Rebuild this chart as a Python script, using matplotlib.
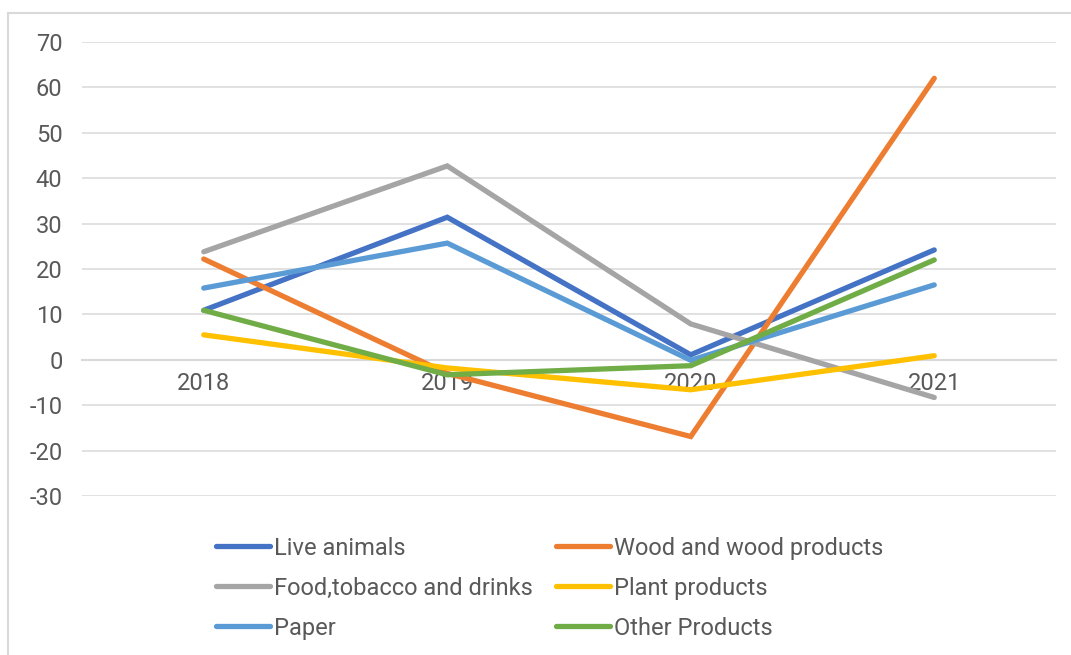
import matplotlib
matplotlib.use("Agg")
import matplotlib.pyplot as plt
from matplotlib.lines import Line2D

plt.rcParams['font.family'] = ['Roboto', 'DejaVu Sans']
plt.rcParams['axes.unicode_minus'] = False

years = ["2018", "2019", "2020", "2021"]

live_animals = [10.9, 31.4, 1.1, 24.2]
wood_products = [22.2, -3.0, -16.9, 62.0]
food_tobacco = [23.8, 42.7, 7.9, -8.3]
plant_products = [5.5, -1.8, -6.6, 0.9]
paper = [15.8, 25.7, -0.1, 16.5]
other_products = [10.9, -3.3, -1.3, 22.0]

series = [
    ("Live animals", live_animals, "#4472C4"),
    ("Wood and wood products", wood_products, "#ED7D31"),
    ("Food,tobacco and drinks", food_tobacco, "#A5A5A5"),
    ("Plant products", plant_products, "#FFC000"),
    ("Paper", paper, "#5B9BD5"),
    ("Other Products", other_products, "#70AD47"),
]

fig = plt.figure(figsize=(10.71, 6.55), dpi=100)
ax = fig.add_axes([82 / 1071, 1 - 496 / 655, (1056 - 82) / 1071, (496 - 42) / 655])

x = range(len(years))
for name, vals, col in series:
    ax.plot(x, vals, color=col, lw=3.8, label=name,
            solid_capstyle="round", solid_joinstyle="miter", zorder=3)

ax.set_xlim(-0.5, 3.5)
ax.set_ylim(-30, 70)
ax.set_yticks(range(-30, 71, 10))
ax.set_xticks(list(x))
ax.set_xticklabels(years)

for s in ["top", "right", "left"]:
    ax.spines[s].set_visible(False)
ax.spines["bottom"].set_position(("data", 0))
ax.spines["bottom"].set_color("#D9D9D9")
ax.spines["bottom"].set_linewidth(1.5)
ax.spines["bottom"].set_zorder(2)

ax.tick_params(axis="x", length=0, pad=9, labelsize=17, labelcolor="#595959")
ax.tick_params(axis="y", length=0, pad=14, labelsize=17, labelcolor="#595959")
ax.grid(axis="y", color="#D9D9D9", lw=1.1, zorder=1)
ax.set_axisbelow(True)

# legend filled row by row like the original
handles, labels = ax.get_legend_handles_labels()
order = [0, 2, 4, 1, 3, 5]
leg = fig.legend([handles[i] for i in order], [labels[i] for i in order],
                 loc="center", bbox_to_anchor=(0.513, 0.102), ncol=2,
                 frameon=False, fontsize=17, handlelength=2.3,
                 handletextpad=0.15, columnspacing=1.0, labelspacing=0.72)
for t in leg.get_texts():
    t.set_color("#595959")

# chart border (partially cropped)
fig.add_artist(Line2D([8 / 1071, 8 / 1071], [0, 1 - 13 / 655], color="#D9D9D9", lw=1.5))
fig.add_artist(Line2D([8 / 1071, 1], [1 - 13 / 655, 1 - 13 / 655], color="#D9D9D9", lw=1.5))

fig.savefig("out.png", dpi=100)
